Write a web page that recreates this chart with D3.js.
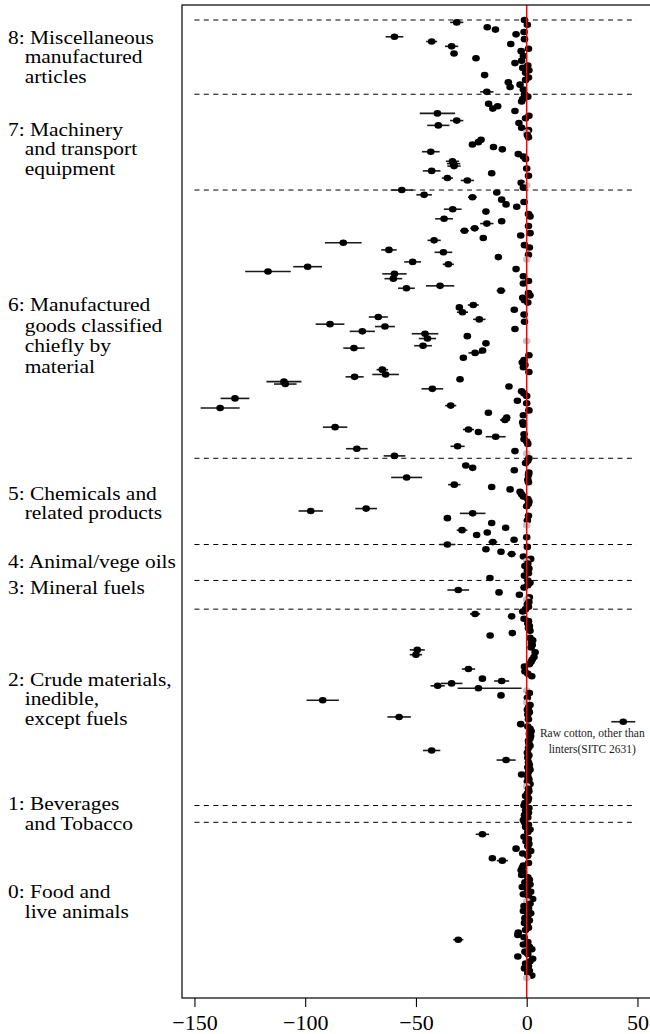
<!DOCTYPE html>
<html>
<head>
<meta charset="utf-8">
<title>Estimates by SITC section</title>
<style>
  body { margin: 0; background: #fff; }
  svg { display: block; font-family: 'Liberation Serif', 'DejaVu Serif', serif; }
</style>
</head>
<body>
<div id="chart"></div>
<script src="https://cdnjs.cloudflare.com/ajax/libs/d3/7.8.5/d3.min.js"></script>
<script>
  // number = point estimate, [v, halfwidth] = estimate with interval,
  // [v, lo, hi] = asymmetric interval, NS = grey point (not significant, on zero)
  const NS = null

  const sectionLabels = [
    ["8: Miscellaneous", "manufactured", "articles"],
    ["7: Machinery", "and transport", "equipment"],
    ["6: Manufactured", "goods classified", "chiefly by", "material"],
    ["5: Chemicals and", "related products"],
    ["4: Animal/vege oils"],
    ["3: Mineral fuels"],
    ["2: Crude materials,", "inedible,", "except fuels"],
    ["1: Beverages", "and Tobacco"],
    ["0: Food and", "live animals"]
  ]

  const sitc8 = [-1, [-31.6, 3], 0.3, -17.8, -14.1, -1.2, -4.8, [-59.7, 4], -1, [-42.9, 2.5],
    -7.2, [-33.9, 3], 0.8, -2.5, [-32.8, 1.5], -1.5, [-22.9, 1.5], -2.3, -5.3, 0.5,
    -1.8, 1, -0.5, -19, 0.8, -0.5, -8.3, -3, -7.5, -1.5, [-18, 3]]

  const sitc7 = [-1, 0.5, -1.8, -2.3, -17.2, -13.1, -15.3, -5.3, [-40.3, 8], 1,
    -0.5, [-31.6, 3], -3.5, [-39.9, 5], -2.3, 0.8, NS, 0.3, 0.8, -20.6,
    -21.8, -24.5, -15, -11, [-43.3, 4], -3.8, -1.5, -0.5, [-33.5, 3], [-33, 3],
    [-32.8, 3], 0, [-42.9, 4], -15.8, 0.8, [-35.8, 2.5], [-26.8, 3], -2.5, NS, -1.5]

  const sitc6 = [[-56.4, 5], -13.5, [-46.3, 3.5], [-24.5, 2], -11.3, -1.2, -9.3, -4.5, [-33.4, 4], -18.4,
    0.8, 1.5, [-37.3, 4], [-11.3, 1.5], [-18, 3], 0.8, [-23.5, 2], [-28.1, 2], 1.5, -2.7,
    -19.6, [-41.8, 3], [-82.8, 8.3], -1, 1.2, [-62.2, 3.5], [-37.6, 4], 0.8, -12.8, NS,
    [-51.5, 3.8], [-35.4, 2.5], [-98.9, 6.5], -4.8, [-116.8, 10.3], [-59.7, 5.5], -1.5, [-60.2, 4], 0.8, -1.5,
    [-39.1, 6.4], [-54.3, 3.8], [-11.6, 2], 0.8, 1.5, -1.8, -1, 0.5, [-24.1, 2.5], -30.4,
    -5.6, [-29, 2.5], -1.2, [-67, 4.3], [-21.4, 2.8], -1, [-88.8, 6.5], [-64, 4.5], -5.3, [-74.2, 5.7],
    [-45.9, 6], [-26.8, 1.5], [-44.8, 3.9], NS, -18.4, [-46.8, 4], [-78, 4.8], -19.9, [-23.3, 3], 1,
    [-28.6, 1.5], -1.2, -2, -0.8, -1.5, [-65.2, 2.6], 1, [-63.7, 6], [-77.7, 4.1], [-30.1, 1],
    [-109.6, 7.9], [-109, 5.1], -8, [-42.6, 4.9], -2.3, -1.2, 0, [-131.7, 6.5], -4.2, 0,
    [-34.3, 2.5], [-138.4, 8.8], 1, -17.3, -1.5, -9, [-9.8, 2.3], -1.8, -1.5, [-86.5, 5.5],
    [-26.3, 2.5], -21.8, -1.2, [-14, 4.5], -1.2, 0, 0.5, [-31.2, 3.2], [-76.7, 4.9], -5.3,
    NS, [-59.7, 4.9]]

  const sitc5 = [1, 0.5, -0.5, [-27.5, 1.5], -24.4, -5.6, 1, 0.8, [-54.2, 7], 0.5,
    0.8, [-32.7, 2.8], -15.8, -7.5, -3, -2.3, -1.5, 0.5, 1, 0.8,
    0, [-72.5, 4.9], [-97.5, 5.5], [-24.4, 5.8], 0.8, -35.8, 0.3, -15.8, NS, -9.5,
    [-29.2, 2.4], -17.8, -22.6, 0, -5.7, [-15.3, 2]]

  const sitc4 = [[-35.8, 3.6], 0.3, -18.4, -11.6, [-6.8, 2], -1.5, 1.8, NS, 0.5, -0.8,
    1, 0.3, 0.8, -1, -16.6]

  const sitc3 = [0.5, 1.5, 0.5, -1.2, [-30.9, 4.9], -12.5, -3.3, 1.2, NS, 1, 0.3, 0.8]

  const sitc2 = [-0.5, -1.8, [-23.3, 2.3], -6.8, -1.2, 0.8, 0.5, 1.2, 0.8, 1.5,
    -6.5, -16.5, 1.5, 2.7, 2.2, 2.5, 2, [-49.4, 3.4], 3.8, [-50, 2.8],
    3.3, 2.5, 2, 1.2, -1, [-26.3, 3], -0.8, 0.5, 2.3, -20,
    [-11.3, 3.4], [-33.9, 4.9], [-40.2, 3.2], [-21.8, -31.2, -2.3], NS, 1.2, -11.6, 0.3, [-92.1, 7.3], NS,
    1.5, 0.8, 0.3, 1.2, 0.5, [-57.6, 5.3], 0.8, [43.6, 5.4], -2.7, 0.5,
    1.5, 2, 1.2, 1.8, 1.5, 0.8, 1, 1.5, 0.8, [-42.9, 3.9],
    0.3, 1, 0.5, [-9.3, 4.3], 0.8, 1.2, 0.5, 1.5, 0.8, -2.3,
    0.5, 1, 0.3, 1.5, NS, 0.8, 1, 0.3, -0.5, 0.8,
    0.5, -0.8]

  const sitc1 = [-1.2, 1, -0.5, 0.8, -1, 0.5, -1.5]

  const sitc0 = [-1, 0.8, -0.5, 1.5, 0.5, [-20, 3], -1.2, 0.8, -0.3, 1,
    0.5, -4.8, 1.8, -1.8, 0.5, -15.5, [-11, 2.5], 0.8, -1.5, -2,
    -2.5, -1.5, -2.3, 0.5, 1.2, -0.8, 1.5, -2, 0.3, 1.8,
    -1.5, 0.8, 2.7, NS, 1.5, -1.2, 0.8, -1.5, 1.8, 0.5,
    -0.8, 1.2, -1, 0.3, 0.8, -0.5, -3.8, -4, -1.2, [-30.9, 2.3],
    0.5, -1.5, 1.2, 2.3, -0.8, 0.5, -4, 2.7, 1.5, -0.5,
    0.8, -1, 1.2, 0.5, 2.3, NS]

  const sections = [sitc8, sitc7, sitc6, sitc5, sitc4, sitc3, sitc2, sitc1, sitc0]
  const xTicks = [-150, -100, -50, 0, 50]
  const note = ["Raw cotton, other than", "linters(SITC 2631)"]
  const noteSection = 6, noteRow = 47

  // layout
  const W = 650, H = 1034
  const box = { left: 182, top: 5, right: 651, bottom: 998 }
  const labelNudge = [0, 7, 12, 2, 0, -7, -8, 0, 2]
  const lineGap = [19.5, 19.5, 20.5, 19.5, 19.5, 19.5, 19.5, 19.5, 19.5]

  // flatten rows top to bottom
  const rows = []
  const starts = []
  sections.forEach((sec, si) => {
    starts.push(rows.length)
    sec.forEach((d, k) => {
      let r
      if (d === null) r = { v: 0, grey: true }
      else if (typeof d === "number") r = { v: d }
      else if (d.length === 2) r = { v: d[0], lo: d[0] - d[1], hi: d[0] + d[1] }
      else r = { v: d[0], lo: d[1], hi: d[2] }
      r.i = rows.length
      r.sec = si
      r.k = k
      rows.push(r)
    })
  })
  const N = rows.length

  const x = d3.scaleLinear().domain([-150, 50]).range([194.45, 637.45])
  const y = d3.scaleLinear().domain([0, N - 1]).range([20, 978])

  const svg = d3.select("#chart").append("svg")
    .attr("width", W)
    .attr("height", H)

  // dashed separators at the first row of each section
  svg.append("g").selectAll("line")
    .data(starts)
    .join("line")
    .attr("x1", x(-150))
    .attr("x2", x(49.5))
    .attr("y1", d => y(d))
    .attr("y2", d => y(d))
    .attr("stroke", "#000")
    .attr("stroke-width", 1)
    .attr("stroke-dasharray", "5,4.4")

  // interval bars
  svg.append("g").selectAll("line")
    .data(rows.filter(d => d.lo !== undefined))
    .join("line")
    .attr("x1", d => x(d.lo))
    .attr("x2", d => x(d.hi))
    .attr("y1", d => y(d.i))
    .attr("y2", d => y(d.i))
    .attr("stroke", "#1a1a1a")
    .attr("stroke-width", 1.6)

  // points
  svg.append("g").selectAll("ellipse")
    .data(rows)
    .join("ellipse")
    .attr("cx", d => x(d.v))
    .attr("cy", d => y(d.i))
    .attr("rx", 3.8)
    .attr("ry", 3.3)
    .attr("fill", d => d.grey ? "#c4c4c4" : "#000")

  // zero line
  svg.append("line")
    .attr("x1", x(0)).attr("x2", x(0))
    .attr("y1", box.top).attr("y2", box.bottom)
    .attr("stroke", "#ff0000")
    .attr("stroke-width", 1.5)

  // frame
  svg.append("rect")
    .attr("x", box.left)
    .attr("y", box.top)
    .attr("width", box.right - box.left)
    .attr("height", box.bottom - box.top)
    .attr("fill", "none")
    .attr("stroke", "#000")
    .attr("stroke-width", 1.2)

  // x axis
  const xAxis = svg.append("g")
    .attr("transform", `translate(0,${box.bottom})`)
    .call(d3.axisBottom(x).tickValues(xTicks).tickSize(9).tickSizeOuter(0).tickPadding(7))
  xAxis.select(".domain").remove()
  xAxis.selectAll("line").attr("stroke", "#000").attr("stroke-width", 1.1)
  xAxis.selectAll("text")
    .attr("font-family", "'Liberation Serif', serif")
    .attr("font-size", 22)
    .attr("fill", "#000")

  // section labels
  sectionLabels.forEach((lines, si) => {
    const top = y(starts[si])
    const bottom = si < starts.length - 1 ? y(starts[si + 1]) : y(N - 1)
    const mid = (top + bottom) / 2 + labelNudge[si]
    const t = svg.append("text")
      .attr("font-size", 19.5)
      .attr("fill", "#000")
      .attr("transform", "translate(8,0) scale(1.1,1)")
    const prefix = t.append("tspan").text(lines[0].slice(0, 3))
    const indent = prefix.node().getComputedTextLength()
    prefix.remove()
    lines.forEach((ln, j) => {
      t.append("tspan")
        .attr("x", j === 0 ? 0 : indent)
        .attr("y", mid + (j - (lines.length - 1) / 2) * lineGap[si] + 6)
        .text(ln)
    })
  })

  // annotation for the one positive outlier
  const cotton = rows.find(d => d.sec === noteSection && d.k === noteRow)
  svg.append("g").selectAll("text")
    .data(note)
    .join("text")
    .attr("x", x(cotton.v) - 31)
    .attr("y", (d, j) => y(cotton.i) + 15.5 + j * 15.5)
    .attr("text-anchor", "middle")
    .attr("font-size", 11.5)
    .attr("fill", "#222")
    .text(d => d)
</script>
</body>
</html>
